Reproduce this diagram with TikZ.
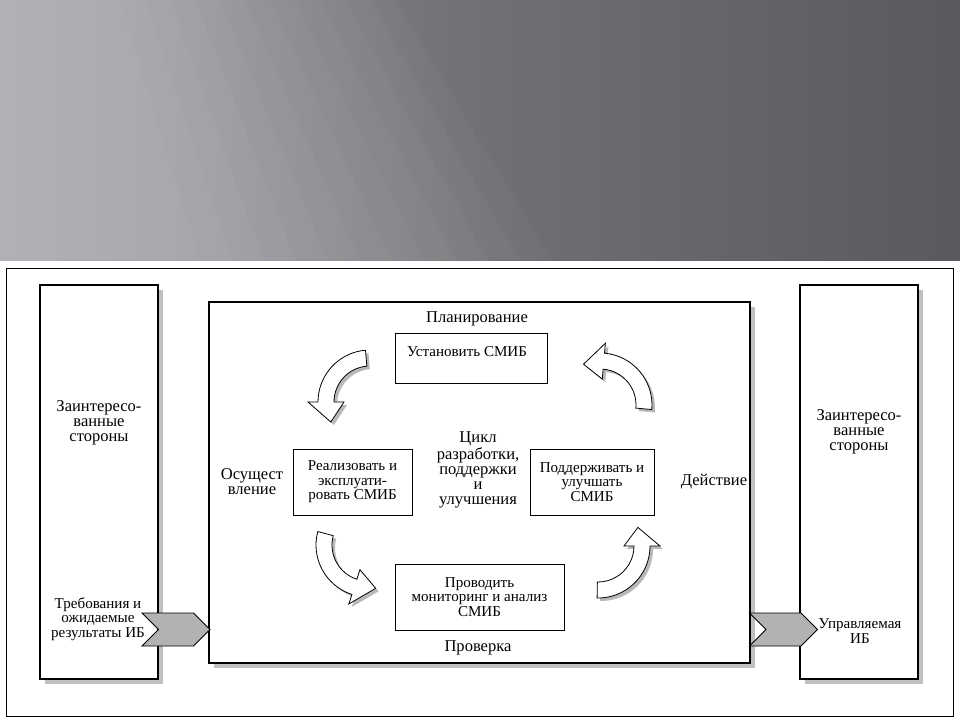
\documentclass[tikz,border=0pt]{standalone}
\usepackage{fontspec}
\setmainfont{Liberation Serif}
\usetikzlibrary{shapes.symbols,shadows}
\definecolor{bannerL}{HTML}{96949B}
\definecolor{bannerM}{HTML}{727075}
\definecolor{bannerR}{HTML}{5C595E}

\begin{document}
\begin{tikzpicture}[x=0.75pt,y=-0.75pt,
        every node/.style={font=\fontsize{12.4}{11.4}\selectfont, align=center, inner sep=0pt},
        small/.style={font=\fontsize{11.3}{10.8}\selectfont},
        panel/.style={draw, line width=0.8pt, fill=white, drop shadow={shadow xshift=3.5pt, shadow yshift=-3.5pt, opacity=0.5}},
        task/.style={draw, small, line width=0.7pt, minimum height=49.5pt},
        flow/.style={signal, signal to=east, signal from=west, draw, line width=0.7pt, fill=gray!60, minimum width=51pt, minimum height=24.75pt},
        turn/.style={draw, line width=0.6pt, fill=white, preaction={fill=gray!55, transform canvas={xshift=2.25pt, yshift=-2.25pt}}}]
        \useasboundingbox (0,0) rectangle (960,720);
        \fill[white] (0,0) rectangle (960,720);
        % banner
        \shade[left color=bannerL, right color=bannerR, middle color=bannerM] (0,0) rectangle (960,261);
        \foreach \k in {0,...,11}
            \fill[white, opacity=0.03] (0,0) -- ({120+25*\k},0) -- ({200+32*\k},261) -- (0,261) -- cycle;
        \draw[line width=0.7pt] (6,268) rectangle (953,716);
        % panels
        \node[panel, minimum width=88.5pt, minimum height=295.5pt] (stakeL) at (99,482) {};
        \node[panel, minimum width=88.5pt, minimum height=295.5pt] (stakeR) at (859,482) {};
        \node[panel, minimum width=405.75pt, minimum height=270.75pt] (isms) at (479.5,482.5) {};
        % cycle steps
        \node[task, minimum width=114pt, minimum height=37.5pt] (plan) at (471,358) {};
        \node[small] (plantxt) at (467,352) {Установить СМИБ};
        \node[task, minimum width=89.25pt] (do) at (352.5,482) {Реализовать и\\эксплуати-\\ровать СМИБ};
        \node[task, minimum width=93pt] (act) at (592,482) {Поддерживать и\\улучшать\\СМИБ};
        \node[task, minimum width=126.75pt] (check) at (479.5,597) {Проводить\\мониторинг и анализ\\СМИБ};
        \node (planlbl) at (477,319) {Планирование};
        \node (dolbl) at (252,482) {Осущест\\вление};
        \node (actlbl) at (714,482) {Действие};
        \node (checklbl) at (478,648) {Проверка};
        \node (cyclelbl) at (478,470) {Цикл\\разработки,\\поддержки\\и\\улучшения};
        % curved arrows
        \foreach \cx/\cy/\ta/\ha/\pa in {370/402/95/180/207, 600/405/-5/85/112, 368/545/165/252/280, 598/546/-91/0/25}
            \path[turn, shift={(\cx,\cy)}, yscale=-1] (\ta:52) arc[start angle=\ta, end angle=\ha, radius=52]
                -- (\ha:62) -- (\pa:44) -- (\ha:26) -- (\ha:36) arc[start angle=\ha, end angle=\ta, radius=36] -- cycle;
        % in and out
        \node[flow] (reqflow) at (176,629.5) {};
        \node[flow] (outflow) at (783.5,629.5) {};
        \node (stakeLtxt) at (99,423) {Заинтересо-\\ванные\\стороны};
        \node (stakeRtxt) at (859,432) {Заинтересо-\\ванные\\стороны};
        \node[small] (reqtxt) at (98,619) {Требования и\\ожидаемые\\результаты ИБ};
        \node[small] (outtxt) at (860,631) {Управляемая\\ИБ};
\end{tikzpicture}
\end{document}
